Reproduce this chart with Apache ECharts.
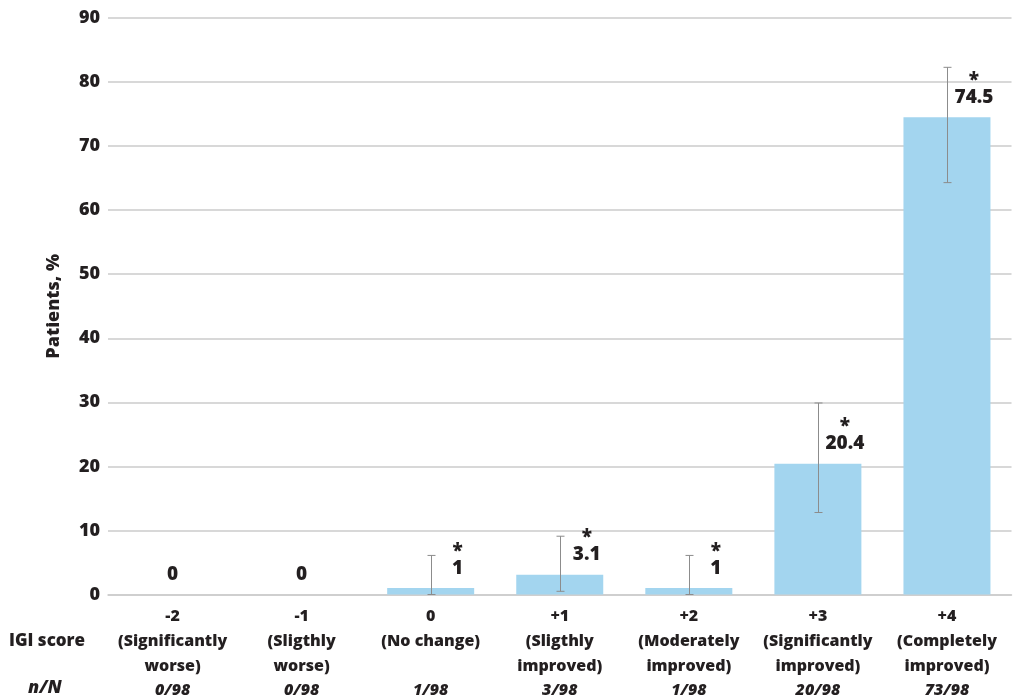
<!DOCTYPE html>
<html>
<head>
<meta charset="utf-8">
<script src="https://cdn.jsdelivr.net/npm/echarts@6/dist/echarts.min.js"></script>
<style>
html,body{margin:0;padding:0;background:#fff;}
#chart{width:1014px;height:698px;}
</style>
</head>
<body>
<div id="chart"></div>
<script>
var scores = ['-2', '-1', '0', '+1', '+2', '+3', '+4'];
var descLine1 = ['(Significantly', '(Sligthly', '(No change)', '(Sligthly', '(Moderately', '(Significantly', '(Completely'];
var descLine2 = ['worse)', 'worse)', '', 'improved)', 'improved)', 'improved)', 'improved)'];
var nN = ['0/98', '0/98', '1/98', '3/98', '1/98', '20/98', '73/98'];
var values = [0, 0, 1, 3.1, 1, 20.4, 74.5];
var errLow = [null, null, 0, 0.5, 0, 12.8, 64.3];
var errHigh = [null, null, 6.1, 9.1, 6.1, 29.9, 82.3];
var significant = [false, false, true, true, true, true, true];
var yTicks = [0, 10, 20, 30, 40, 50, 60, 70, 80, 90];

var FONT = '"Open Sans"';
var W = 800;
var TXT = '#231f20';

var chart = echarts.init(document.getElementById('chart'), null, {renderer: 'canvas'});

var barData = values.map(function (v, i) {
  return {
    value: v,
    label: {
      offset: significant[i] ? [27, 0] : [0, 0],
      formatter: significant[i] ? '{s|*}\n{v|' + v + '}' : '{v|' + v + '}'
    }
  };
});

var errData = [];
for (var i = 0; i < scores.length; i++) {
  if (errLow[i] !== null) errData.push([i, errLow[i], errHigh[i]]);
}

var option = {
  animation: false,
  backgroundColor: '#ffffff',
  grid: {left: 108, right: 2.5, top: 18, bottom: 103},
  xAxis: {
    type: 'category',
    data: scores,
    axisLine: {show: true, lineStyle: {color: '#cbcbcb', width: 1.5}},
    axisTick: {show: false},
    axisLabel: {
      interval: 0,
      margin: 9,
      formatter: function (val, idx) {
        return '{a|' + scores[idx] + '}\n{a|' + descLine1[idx] + '}\n{a|' + (descLine2[idx] || ' ') + '}\n{n|' + nN[idx] + '}';
      },
      rich: {
        a: {fontFamily: FONT, fontWeight: W, fontSize: 16, color: TXT, lineHeight: 25},
        n: {fontFamily: FONT, fontWeight: W, fontStyle: 'italic', fontSize: 16, color: TXT, lineHeight: 23}
      }
    }
  },
  yAxis: {
    type: 'value',
    min: 0,
    max: 90,
    interval: 10,
    name: 'Patients, %',
    nameLocation: 'middle',
    nameGap: 45,
    nameTextStyle: {fontFamily: FONT, fontWeight: W, fontSize: 18, color: TXT},
    axisLine: {show: false},
    axisTick: {show: false},
    axisLabel: {
      margin: 8,
      fontFamily: FONT, fontWeight: W, fontSize: 18, color: TXT,
      formatter: function (v) { return yTicks.indexOf(v) >= 0 ? String(v) : ''; }
    },
    splitLine: {show: true, lineStyle: {color: '#cbcbcb', width: 1.5}}
  },
  graphic: [
    {type: 'text', left: 9, top: 633, style: {text: 'IGI score', font: '800 17px "Open Sans"', fill: TXT}},
    {type: 'text', left: 28, top: 679, style: {text: 'n/N', font: 'italic 800 18px "Open Sans"', fill: TXT}}
  ],
  series: [
    {
      type: 'bar',
      data: barData,
      barWidth: 87,
      itemStyle: {color: '#a3d5ef'},
      label: {
        show: true,
        position: 'top',
        distance: 10,
        rich: {
          s: {fontFamily: FONT, fontWeight: W, fontSize: 19, color: TXT, lineHeight: 20, padding: [6, 0, 0, 0]},
          v: {fontFamily: FONT, fontWeight: W, fontSize: 19, color: TXT, lineHeight: 20}
        }
      },
      z: 2
    },
    {
      type: 'custom',
      data: errData,
      z: 3,
      renderItem: function (params, api) {
        var x = api.value(0);
        var lo = api.coord([x, api.value(1)]);
        var hi = api.coord([x, api.value(2)]);
        var cx = Math.round(lo[0]) + 0.5;
        var hw = 4;
        var st = {stroke: '#8c8c8c', lineWidth: 1};
        return {
          type: 'group',
          children: [
            {type: 'line', shape: {x1: cx, y1: lo[1], x2: cx, y2: hi[1]}, style: st},
            {type: 'line', shape: {x1: cx - hw, y1: hi[1], x2: cx + hw, y2: hi[1]}, style: st},
            {type: 'line', shape: {x1: cx - hw, y1: lo[1], x2: cx + hw, y2: lo[1]}, style: st}
          ]
        };
      }
    }
  ]
};
chart.setOption(option);
</script>
</body>
</html>
